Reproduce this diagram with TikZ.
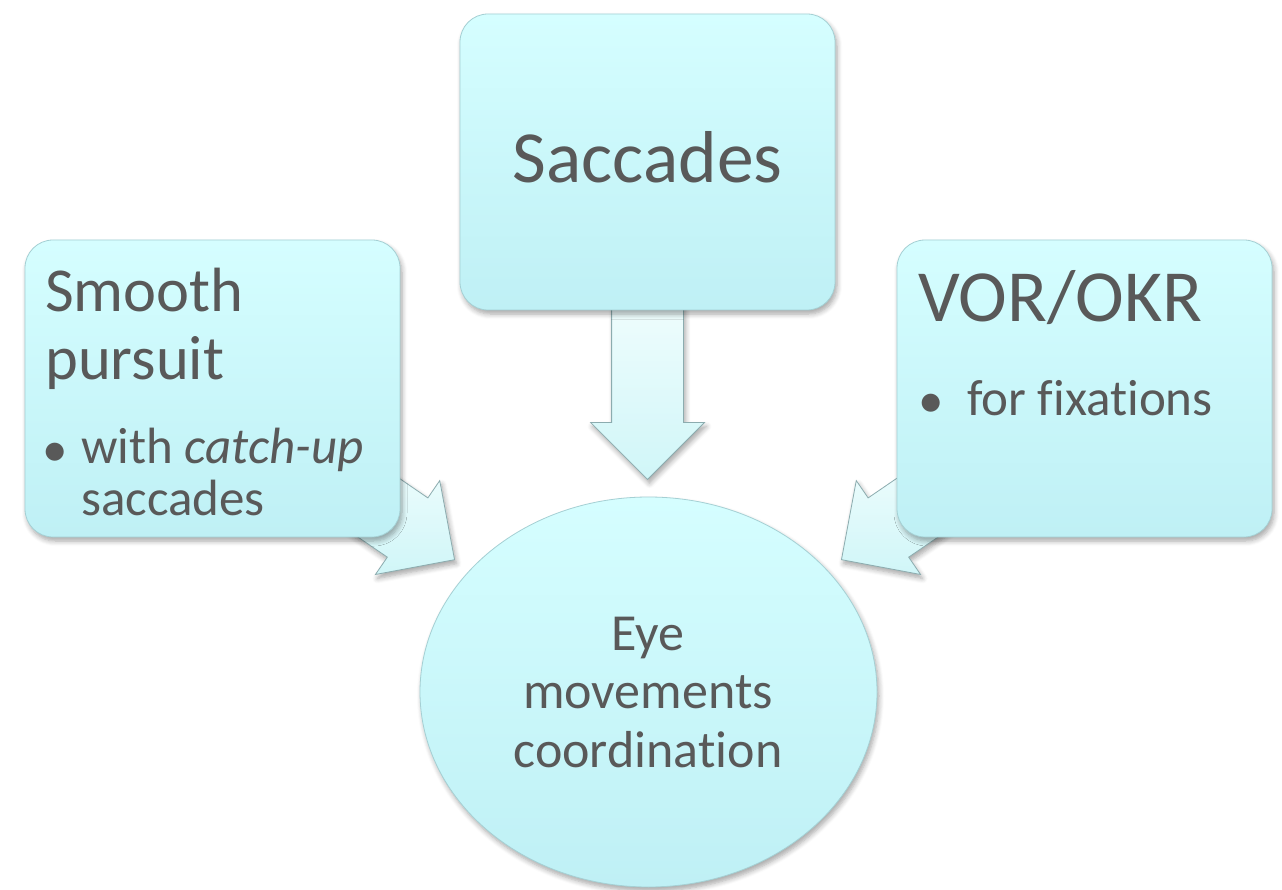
\documentclass[tikz,border=0pt]{standalone}
\usepackage{fontspec}
\setmainfont{Carlito}[Ligatures=NoCommon]
\usetikzlibrary{shapes.geometric,shapes.arrows,shadows.blur}

\definecolor{txt}{RGB}{89,89,89}
\definecolor{boxtop}{RGB}{213,254,255}
\definecolor{boxbot}{RGB}{191,240,245}
\definecolor{boxline}{RGB}{165,208,212}
\definecolor{arrtop}{RGB}{240,253,253}
\definecolor{arrbot}{RGB}{208,246,248}
\definecolor{arrline}{RGB}{140,172,175}

\tikzset{
  softshadow/.style={blur shadow={shadow xshift=2pt, shadow yshift=-4pt,
      shadow blur radius=5pt, shadow blur steps=6, shadow opacity=35}},
  panel/.style={rounded corners=28pt, draw=boxline, line width=0.8pt,
      top color=boxtop, bottom color=boxbot, softshadow},
  oval/.style={ellipse, draw=boxline, line width=0.8pt,
      top color=boxtop, bottom color=boxbot, softshadow},
  blockarrow/.style={single arrow, draw=arrline, line width=0.8pt,
      top color=arrtop, bottom color=arrbot, anchor=tip,
      inner xsep=0pt, inner ysep=35.5pt, minimum width=0pt,
      single arrow head extend=21pt, softshadow},
  lbl/.style={text=txt, inner sep=0pt},
  big/.style={lbl, font=\fontsize{73.5}{80}\selectfont},
  mid/.style={lbl, font=\fontsize{62.5}{70}\selectfont},
  small/.style={lbl, font=\fontsize{51}{58}\selectfont},
  eyetext/.style={lbl, font=\fontsize{52}{58}\selectfont},
}

\begin{document}
\begin{tikzpicture}[x=1pt, y=-1pt]
  \useasboundingbox (0,0) rectangle (1282,890);

  % block arrows, placed by their tips and drawn first so that the
  % boxes cover their tails
  \node[blockarrow, minimum height=185pt, rotate=-90] (arrS) at (647.5,480) {};
  \node[blockarrow, minimum height=135pt, rotate=-34.4] (arrL) at (455,560) {};
  \node[blockarrow, minimum height=135pt, rotate=-145.6] (arrR) at (841,560) {};

  % boxes
  \node[panel, minimum width=375pt, minimum height=296pt] (sac) at (647.5,162) {};
  \node[panel, minimum width=375pt, minimum height=297pt] (smooth) at (212.5,388.5) {};
  \node[panel, minimum width=375pt, minimum height=297pt] (vor) at (1084.5,388.5) {};

  % central ellipse
  \node[oval, minimum width=457pt, minimum height=390pt] (eye) at (648.5,692) {};

  % Saccades
  \node[big, anchor=base] (sacT) at (647.5,183) {Saccades};

  % Smooth pursuit
  \node[mid, anchor=base west] (smT1) at (45,312) {Smooth};
  \node[mid, anchor=base west] (smT2) at (45,380) {pursuit};
  \node[small, anchor=base] (smB) at (55,466) {•};
  \node[small, anchor=base west] (smT3) at (81,463) {with \textit{catch-up}};
  \node[small, anchor=base west] (smT4) at (81,515) {saccades};

  % VOR/OKR
  \node[big, anchor=base west] (vorT1) at (918,322) {VOR/OKR};
  \node[small, anchor=base] (vorB) at (931,417) {•};
  \node[small, anchor=base west] (vorT2) at (967,415) {for fixations};

  % centre text
  \node[eyetext, anchor=base] (eyeT1) at (648,650) {Eye};
  \node[eyetext, anchor=base] (eyeT2) at (648,708) {movements};
  \node[eyetext, anchor=base] (eyeT3) at (648,767) {coordination};
\end{tikzpicture}
\end{document}
